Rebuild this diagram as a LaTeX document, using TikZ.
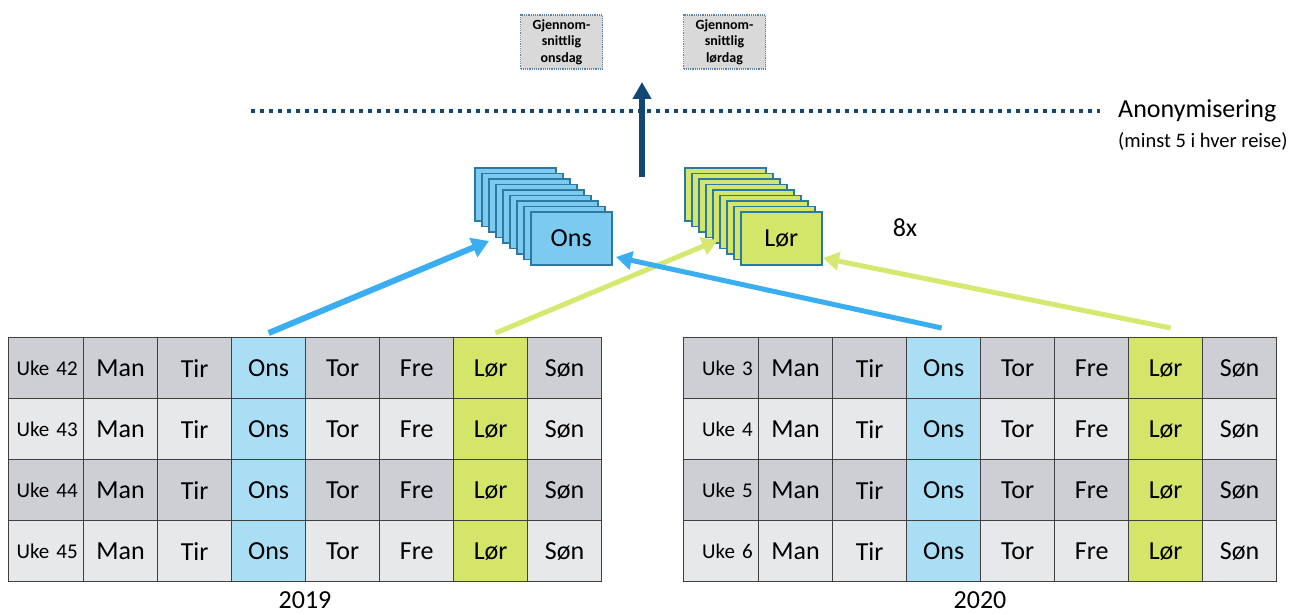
\documentclass[tikz,border=0pt]{standalone}
\usepackage{fontspec}
\setmainfont{Carlito}
\usetikzlibrary{arrows.meta}

\definecolor{rowdark}{RGB}{205,207,212}
\definecolor{rowlight}{RGB}{231,232,234}
\definecolor{onscell}{RGB}{169,222,245}
\definecolor{lorcell}{RGB}{212,229,106}
\definecolor{onsarrow}{RGB}{58,174,240}
\definecolor{lorarrow}{RGB}{214,232,112}
\definecolor{onscard}{RGB}{124,202,240}
\definecolor{lorcard}{RGB}{212,230,106}
\definecolor{cardedge}{RGB}{45,122,160}
\definecolor{navy}{RGB}{17,72,115}
\definecolor{boxgray}{RGB}{217,217,217}
\definecolor{boxedge}{RGB}{90,130,170}
\definecolor{gridline}{RGB}{64,64,64}

\tikzset{
  cell/.style={draw=gridline,line width=1.3pt,anchor=north west,inner sep=0pt,
    minimum width=74pt,minimum height=61pt,font=\fontsize{26}{30}\selectfont},
  ukecell/.style={cell,minimum width=75pt,text width=63pt,inner xsep=6pt,
    align=right,font=\fontsize{21}{25}\selectfont},
  card/.style={draw=cardedge,line width=1.5pt,anchor=north west,inner sep=0pt,
    minimum width=81pt,minimum height=53pt,font=\fontsize{26}{30}\selectfont},
  snitt/.style={draw=boxedge,densely dotted,line width=1.2pt,fill=boxgray,
    minimum width=82pt,minimum height=54pt,inner sep=0pt,align=center,
    font=\bfseries\fontsize{14}{16.5}\selectfont},
  pil/.style={line width=5pt,-{Triangle[width=18pt,length=16pt]}},
  tekst/.style={inner sep=0pt,font=\fontsize{26}{30}\selectfont}
}

\begin{document}
\begin{tikzpicture}[x=1pt,y=-1pt]
  \useasboundingbox (0,0) rectangle (1298,615);

  \foreach \side/\xs/\off in {L/8/41,R/683/2}{
    \foreach \r/\rf in {1/rowdark,2/rowlight,3/rowdark,4/rowlight}{
      \pgfmathtruncatemacro\uke{\r+\off}
      \node[ukecell,fill=\rf] (\side-\r-0) at (\xs,276+61*\r) {Uke \uke};
      \foreach \c/\dname/\f in {1/Man/\rf,2/Tir/\rf,3/Ons/onscell,4/Tor/\rf,5/Fre/\rf,6/Lør/lorcell,7/Søn/\rf}
        \node[cell,fill=\f] (\side-\r-\c) at (\xs+1+74*\c,276+61*\r) {\dname};
    }
  }
  \node[tekst] (aar2019) at (305,600) {2019};
  \node[tekst] (aar2020) at (980,600) {2020};

  \foreach \k in {0,...,7}{
    \node[card,fill=onscard] (ons\k) at (474+7*\k,167+5.5*\k) {};
    \node[card,fill=lorcard] (lor\k) at (684+7*\k,167+5.5*\k) {};
  }
  \node[card,fill=onscard] (ons) at (530,211) {Ons};
  \node[card,fill=lorcard] (lor) at (740,211) {Lør};
  \node[tekst] (antall) at (905,228) {8x};

  \node[snitt] (snittons) at (561.5,42) {Gjennom-\\snittlig\\onsdag};
  \node[snitt] (snittlor) at (724.5,42) {Gjennom-\\snittlig\\lørdag};

  \node[tekst,anchor=west] (anonym) at (1118,111) {Anonymisering};
  \node[inner sep=0pt,anchor=west,font=\fontsize{20.5}{24}\selectfont] (minst) at (1118,141) {(minst 5 i hver reise)};
  \coordinate (grense) at (251,111);
  \draw[navy,line width=4pt,dash pattern=on 4pt off 5pt,shorten >=18pt] (grense) -- (anonym.west);

  \coordinate (oppfra) at (642,177);
  \coordinate (opptil) at (642,82);
  \draw[navy,line width=5.5pt,-{Triangle[width=18pt,length=17pt]}] (oppfra) -- (opptil);

  \coordinate (onsinn) at (489,241);
  \coordinate (lorinn) at (718,240);
  \coordinate (onshjorne) at (616,257);
  \coordinate (lorhjorne) at (823,258);
  \draw[pil,lorarrow] ([xshift=5pt,yshift=4pt]L-1-6.north) -- (lorinn);
  \draw[pil,onsarrow,line width=6pt,-{Triangle[width=20pt,length=17pt]}] ([yshift=4pt]L-1-3.north) -- (onsinn);
  \draw[pil,onsarrow] ([xshift=-2pt,yshift=9pt]R-1-3.north) -- (onshjorne);
  \draw[pil,lorarrow] ([xshift=5pt,yshift=9pt]R-1-6.north) -- (lorhjorne);
\end{tikzpicture}
\end{document}
